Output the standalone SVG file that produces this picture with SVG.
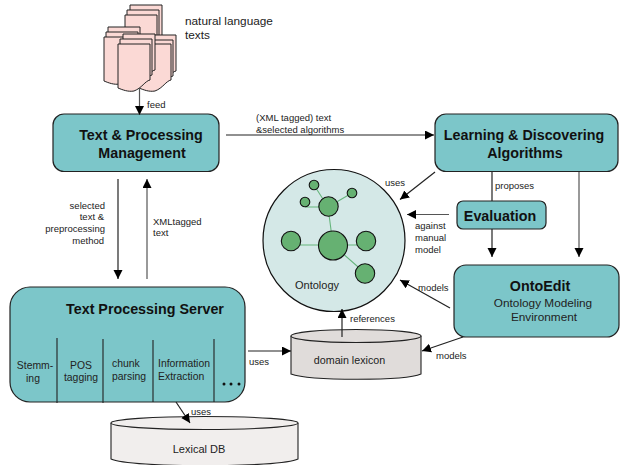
<svg xmlns="http://www.w3.org/2000/svg" width="621" height="465" viewBox="0 0 621 465">
<style>
text{font-family:"Liberation Sans",Arial,sans-serif;fill:#222}
.s{font-size:9.500px}
.c{font-size:10.400px}
.m{font-size:11.800px}
.h{font-size:14.300px;font-weight:bold;fill:#111}
.box{fill:#7cc6c9;stroke:#222;stroke-width:1.200}
.page{fill:#fbd9d5;stroke:#222;stroke-width:1}
.cyl{stroke:#222;stroke-width:1.100}
.conn{fill:none;stroke:#222;stroke-width:1.200}
.edge{stroke:#66b57c;stroke-width:1.100}
.n{fill:#66b172;stroke:#111;stroke-width:1.100}
</style>
<defs>
<marker id="a" markerUnits="userSpaceOnUse" markerWidth="10" markerHeight="10" refX="9" refY="4.500" orient="auto"><path d="M0 0L9 4.500L0 9z" fill="#000"/></marker>
<path id="p" d="M0 0H32V36C27 37 24 44 16 47C10 48 5 46 0 44z"/>
</defs>
<g id="documents" class="page">
<use href="#p" x="130" y="5"/><use href="#p" x="127" y="10"/><use href="#p" x="125" y="15"/>
<use href="#p" x="144" y="35"/><use href="#p" x="141" y="40"/><use href="#p" x="139" y="44"/>
<use href="#p" x="108" y="27"/><use href="#p" x="106" y="32"/><use href="#p" x="104" y="37"/>
<use href="#p" x="123" y="34"/><use href="#p" x="120" y="39"/><use href="#p" x="118" y="44"/>
</g>
<g id="texts-label"><text class="m" x="185" y="25">natural language</text><text class="m" x="185" y="39">texts</text></g>
<g id="text-processing-management">
<rect class="box" x="53" y="114" width="166" height="57.500" rx="11"/>
<text class="h" x="141" y="140" text-anchor="middle">Text &amp; Processing</text>
<text class="h" x="142" y="158" text-anchor="middle">Management</text>
</g>
<g id="learning-discovering">
<rect class="box" x="435" y="114" width="183" height="57.500" rx="11"/>
<text class="h" x="524" y="140" text-anchor="middle">Learning &amp; Discovering</text>
<text class="h" x="525" y="158" text-anchor="middle">Algorithms</text>
</g>
<g id="evaluation">
<rect class="box" x="457" y="201" width="89" height="28" rx="6"/>
<text class="h" x="500" y="221" text-anchor="middle">Evaluation</text>
</g>
<g id="ontoedit">
<rect class="box" x="454" y="265" width="165" height="72" rx="12"/>
<text class="h" x="540" y="291" text-anchor="middle">OntoEdit</text>
<text class="m" x="543" y="307" text-anchor="middle">Ontology Modeling</text>
<text class="m" x="544" y="321" text-anchor="middle">Environment</text>
</g>
<g id="ontology">
<circle cx="334" cy="240.500" r="71" fill="#d4e8e7" stroke="#111" stroke-width="1.200"/>
<path class="edge" d="M333 245L328 207M333 245H291M333 245H366M333 245L365 273M328 207L314 185M328 207L352 193M328 207H305" fill="none"/>
<circle class="n" cx="333" cy="245.500" r="14.500"/>
<circle class="n" cx="328.500" cy="206.500" r="9.700"/>
<circle class="n" cx="291" cy="241" r="9.700"/>
<circle class="n" cx="366" cy="241" r="9.700"/>
<circle class="n" cx="365" cy="273.500" r="9.700"/>
<circle class="n" cx="314" cy="185" r="4.800"/>
<circle class="n" cx="352" cy="193" r="4.800"/>
<circle class="n" cx="305" cy="202" r="4.800"/>
<text x="295" y="289" font-size="11">Ontology</text>
</g>
<g id="text-processing-server">
<rect class="box" x="10" y="287" width="235" height="115" rx="20"/>
<path d="M57 338V403M103 339V403M153 340V402M214 339V402" stroke="#222" stroke-width="1.100" fill="none"/>
<text class="h" x="145" y="314" text-anchor="middle">Text Processing Server</text>
<text class="c" x="35" y="369" text-anchor="middle">Stemm-</text>
<text class="c" x="33" y="382" text-anchor="middle">ing</text>
<text class="c" x="81" y="369" text-anchor="middle">POS</text>
<text class="c" x="81" y="381" text-anchor="middle">tagging</text>
<text class="c" x="112" y="367">chunk</text>
<text class="c" x="112" y="380">parsing</text>
<text class="c" x="158" y="367">Information</text>
<text class="c" x="158" y="380">Extraction</text>
<g fill="#111"><circle cx="224" cy="384" r="1.500"/><circle cx="231" cy="384" r="1.500"/><circle cx="239" cy="384" r="1.500"/></g>
</g>
<g id="domain-lexicon">
<path class="cyl" fill="#e0dcda" d="M291 336V374C310 381 405 381 421 374V336"/>
<ellipse class="cyl" cx="356" cy="336" rx="65" ry="6.500" fill="#e0dcda"/>
<text x="349.500" y="364" font-size="10.700" text-anchor="middle">domain lexicon</text>
</g>
<g id="lexical-db">
<path class="cyl" fill="#f1eeed" d="M111 423V459C130 468 280 468 298 459V423"/>
<ellipse class="cyl" cx="204.500" cy="423" rx="93.500" ry="6.500" fill="#f1eeed"/>
<text x="199" y="453" font-size="11" text-anchor="middle">Lexical DB</text>
</g>
<g id="connectors" class="conn">
<path d="M139.500 88V115" stroke="#555" marker-end="url(#a)"/>
<path d="M226 135H434" marker-end="url(#a)"/>
<path d="M118 179V279" marker-end="url(#a)"/>
<path d="M147 279V179" stroke="#555" marker-end="url(#a)"/>
<path d="M435 172L400 199.500" marker-end="url(#a)"/>
<path d="M449 214.500H407" stroke="#555" marker-end="url(#a)"/>
<path d="M492 172V201"/>
<path d="M492 229V257" marker-end="url(#a)"/>
<path d="M579 172V257" stroke="#555" marker-end="url(#a)"/>
<path d="M450 308L400 280" marker-end="url(#a)"/>
<path d="M463 337L422 351" marker-end="url(#a)"/>
<path d="M342 337V309" marker-end="url(#a)"/>
<path d="M248 351H291" marker-end="url(#a)"/>
<path d="M176 402L190 423" marker-end="url(#a)"/>
</g>
<g id="edge-labels" class="s">
<text x="147" y="108">feed</text>
<text x="256" y="121">(XML tagged) text</text>
<text x="256" y="133">&amp;selected algorithms</text>
<text x="105" y="209" text-anchor="end">selected</text>
<text x="104" y="220" text-anchor="end">text &amp;</text>
<text x="105" y="232" text-anchor="end">preprocessing</text>
<text x="104" y="244" text-anchor="end">method</text>
<text x="153" y="225">XMLtagged</text>
<text x="153" y="236">text</text>
<text x="385" y="186">uses</text>
<text x="415" y="229">against</text>
<text x="415" y="241">manual</text>
<text x="415" y="253">model</text>
<text x="495" y="189">proposes</text>
<text x="418" y="291">models</text>
<text x="436" y="359">models</text>
<text x="350" y="322">references</text>
<text x="249" y="365">uses</text>
<text x="191" y="415">uses</text>
</g>
</svg>
